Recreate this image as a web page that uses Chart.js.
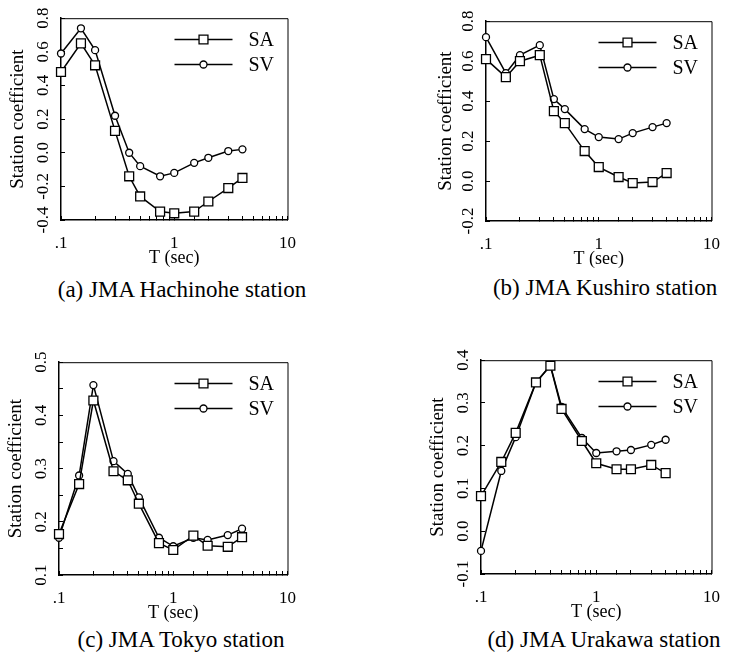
<!DOCTYPE html>
<html><head><meta charset="utf-8">
<script src="https://cdn.jsdelivr.net/npm/chart.js@4.4.1/dist/chart.umd.min.js"></script>
<style>
html,body{margin:0;padding:0;background:#fff;width:738px;height:658px;overflow:hidden;position:relative;}
canvas{position:absolute;}
.cap{position:absolute;width:400px;text-align:center;font-family:'Liberation Serif','Times New Roman',serif;font-size:23px;line-height:26px;color:#000;white-space:nowrap;}
</style></head><body>
<script>
// ---- data ----
const periods = [0.1, 0.15, 0.2, 0.3, 0.4, 0.5, 0.75, 1, 1.5, 2, 3, 4];
const seriesNames = ['SA', 'SV'];
const hachinoheSA = [0.48, 0.65, 0.52, 0.13, -0.14, -0.26, -0.35, -0.36, -0.35, -0.29, -0.21, -0.15];
const hachinoheSV = [0.59, 0.74, 0.61, 0.22, 0.00, -0.08, -0.14, -0.12, -0.06, -0.03, 0.01, 0.02];
const kushiroSA = [0.61, 0.52, 0.60, 0.63, 0.35, 0.29, 0.15, 0.07, 0.02, -0.01, -0.005, 0.04];
const kushiroSV = [0.72, 0.54, 0.63, 0.68, 0.41, 0.36, 0.26, 0.22, 0.21, 0.24, 0.27, 0.29];
const tokyoSA = [0.177, 0.271, 0.428, 0.295, 0.278, 0.234, 0.160, 0.147, 0.174, 0.155, 0.153, 0.171];
const tokyoSV = [0.170, 0.287, 0.457, 0.314, 0.290, 0.246, 0.170, 0.154, 0.170, 0.166, 0.175, 0.187];
const urakawaSA = [0.082, 0.162, 0.230, 0.348, 0.387, 0.286, 0.211, 0.159, 0.145, 0.145, 0.155, 0.136];
const urakawaSV = [-0.046, 0.141, 0.220, 0.348, 0.388, 0.291, 0.218, 0.183, 0.187, 0.190, 0.202, 0.214];
const xTickValues = [0.1, 1, 10];
const xTickLabels = ['.1', '1', '10'];
const captions = ['(a) JMA Hachinohe station', '(b) JMA Kushiro station', '(c) JMA Tokyo station', '(d) JMA Urakawa station'];
const xTitle = 'T (sec)';
const yTitle = 'Station coefficient';

const FAMILY = "'Liberation Serif','Times New Roman',serif";
const panels = [
  {sa: hachinoheSA, sv: hachinoheSV, yMin: -0.4, yMax: 0.8, step: 0.1, axisX: 61, right: 303, top: 17, bottom: 220, yPad: 8, titleOff: 43, capX: 182, capY: 290},
  {sa: kushiroSA, sv: kushiroSV, yMin: -0.2, yMax: 0.8, step: 0.1, axisX: 486, right: 727, top: 20, bottom: 221, yPad: 8, titleOff: 40, capX: 605, capY: 288},
  {sa: tokyoSA, sv: tokyoSV, yMin: 0.1, yMax: 0.5, step: 0.05, axisX: 59, right: 303, top: 358, bottom: 575, yPad: 11, titleOff: 43, capX: 181, capY: 640},
  {sa: urakawaSA, sv: urakawaSV, yMin: -0.1, yMax: 0.4, step: 0.05, axisX: 481, right: 727, top: 359, bottom: 574, yPad: 8, titleOff: 43, capX: 604, capY: 640}
];

const frameLegend = {
  id: 'frameLegend',
  afterDraw(chart) {
    const {ctx, chartArea: a} = chart;
    ctx.save();
    ctx.strokeStyle = '#000';
    ctx.lineWidth = 1;
    ctx.beginPath();
    ctx.moveTo(a.left, a.top + 0.5);
    ctx.lineTo(a.right + 0.5, a.top + 0.5);
    ctx.lineTo(a.right + 0.5, a.bottom);
    ctx.stroke();
    chart.data.datasets.forEach((ds, i) => {
      const y = Math.round(a.top + 21 + i * 24.5) + 0.5;
      const x0 = a.right - 113, x1 = a.right - 55;
      ctx.lineWidth = 1.5;
      ctx.beginPath();
      ctx.moveTo(x0, y); ctx.lineTo(x1, y);
      ctx.stroke();
      ctx.fillStyle = '#fff';
      ctx.lineWidth = ds.pointBorderWidth;
      Chart.helpers.drawPoint(ctx, {pointStyle: ds.pointStyle, radius: ds.pointRadius, borderWidth: ds.pointBorderWidth, rotation: 0}, (x0 + x1) / 2, y);
      ctx.fillStyle = '#000';
      ctx.font = '20px ' + FAMILY;
      ctx.textAlign = 'left';
      ctx.textBaseline = 'middle';
      ctx.fillText(ds.label, a.right - 39, y + 1);
    });
    ctx.restore();
  }
};

panels.forEach((p, idx) => {
  const left = p.axisX - 61, top = p.top - 17;
  const w = 61 + (p.right - p.axisX) + 10;
  const h = 17 + (p.bottom - p.top) + 50;
  const cv = document.createElement('canvas');
  cv.width = w; cv.height = h;
  cv.style.left = left + 'px'; cv.style.top = top + 'px';
  cv.style.width = w + 'px'; cv.style.height = h + 'px';
  document.body.appendChild(cv);

  const cap = document.createElement('div');
  cap.className = 'cap';
  cap.textContent = captions[idx];
  cap.style.left = (p.capX - 200) + 'px';
  cap.style.top = (p.capY - 13) + 'px';
  document.body.appendChild(cap);

  const mk = (vals) => periods.map((t, i) => ({x: t, y: vals[i]}));
  const every = Math.round(0.1 / p.step);

  new Chart(cv, {
    type: 'line',
    data: {
      datasets: [
        {label: seriesNames[0], data: mk(p.sa), borderColor: '#000', borderWidth: 1.5, pointStyle: 'rect', pointRadius: 6.3, pointBorderWidth: 1.3, pointBackgroundColor: '#fff', pointBorderColor: '#000', clip: false, tension: 0},
        {label: seriesNames[1], data: mk(p.sv), borderColor: '#000', borderWidth: 1.5, pointStyle: 'circle', pointRadius: 3.5, pointBorderWidth: 1.3, pointBackgroundColor: '#fff', pointBorderColor: '#000', clip: false, tension: 0}
      ]
    },
    options: {
      responsive: false, animation: false, devicePixelRatio: 1,
      layout: {padding: {top: 17, right: 10, bottom: 0, left: 0}},
      plugins: {legend: {display: false}, tooltip: {enabled: false}},
      scales: {
        x: {
          type: 'logarithmic', min: 0.1, max: 10, position: 'bottom',
          afterFit(s) { s.height = 50; },
          border: {display: true, color: '#000', width: 1.5},
          grid: {drawOnChartArea: false, drawTicks: true, tickLength: -4, color: '#000', tickColor: '#000', tickWidth: 1},
          ticks: {
            autoSkip: false, maxRotation: 0, minRotation: 0, padding: 17, color: '#000',
            font: {family: FAMILY, size: 17},
            callback(v) {
              for (let k = 0; k < xTickValues.length; k++) {
                if (Math.abs(v - xTickValues[k]) < 1e-9) return xTickLabels[k];
              }
              return '';
            }
          },
          title: {display: true, text: xTitle, color: '#000', font: {family: FAMILY, size: 18}, padding: {top: 0, bottom: 1}}
        },
        y: {
          type: 'linear', min: p.yMin, max: p.yMax,
          afterFit(s) { s.width = 61; },
          border: {display: true, color: '#000', width: 1.5},
          grid: {drawOnChartArea: false, drawTicks: true, tickLength: -4, color: '#000', tickColor: '#000', tickWidth: 1},
          ticks: {
            stepSize: p.step, minRotation: 90, maxRotation: 90, crossAlign: 'center', padding: p.yPad, color: '#000',
            font: {family: FAMILY, size: 17},
            callback(v) {
              const k = Math.round(v / p.step);
              if (k % every !== 0) return '';
              return Math.abs(v) < 1e-9 ? '0.0' : v.toFixed(1);
            }
          },
          title: {display: true, text: yTitle, color: '#000', font: {family: FAMILY, size: 19}, padding: {top: 61 - p.titleOff - 11.4, bottom: 0}}
        }
      }
    },
    plugins: [frameLegend]
  });
});
</script>
</body></html>
